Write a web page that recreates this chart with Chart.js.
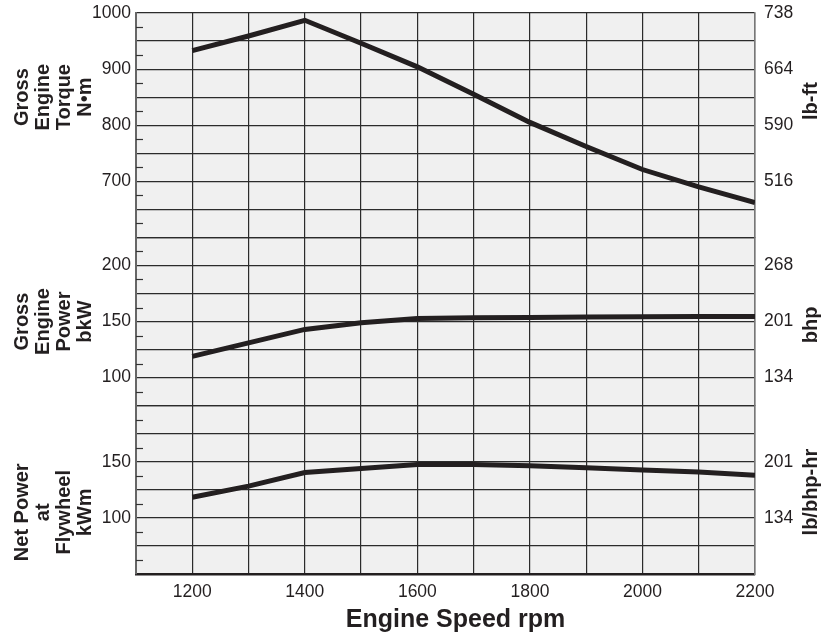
<!DOCTYPE html>
<html>
<head>
<meta charset="utf-8">
<script src="https://cdn.jsdelivr.net/npm/chart.js@4.4.1/dist/chart.umd.min.js"></script>
<style>
  html, body { margin: 0; padding: 0; background: #fff; }
</style>
</head>
<body>
<canvas id="chart" width="822" height="632"></canvas>
<script>
// values
const rpm = [1200, 1300, 1400, 1500, 1600, 1700, 1800, 1900, 2000, 2100, 2200];
const torqueNm = [933, 959, 987, 946, 904, 855, 805, 762, 721, 690, 662];
const grossPowerKw = [119, 131, 143, 149, 152.7, 153.3, 153.7, 154, 154.2, 154.4, 154.5];
const netPowerKw = [118.4, 128.3, 140.4, 144, 147.6, 147.6, 146.4, 144.6, 142.8, 141, 138];

// tick labels
const rpmTicks = [1200, 1400, 1600, 1800, 2000, 2200];
const torqueTicks = [1000, 900, 800, 700];
const torqueLbFt = ['738', '664', '590', '516'];
const powerTicks = [200, 150, 100];
const powerBhp = ['268', '201', '134'];
const netTicks = [150, 100];
const netLbBhpHr = ['201', '134'];

const FONT = '"Liberation Sans", Arial, Helvetica, sans-serif';
const INK = '#231f20';
const GRID = '#2b2b2b';

const xTitle = 'Engine Speed rpm';
const leftTitles = [
  { axis: 'yTorque', at: 850, lines: ['Gross', 'Engine', 'Torque', 'N•m'] },
  { axis: 'yPower', at: 150, lines: ['Gross', 'Engine', 'Power', 'bkW'] },
  { axis: 'yNet', at: 105, lines: ['Net Power', 'at', 'Flywheel', 'kWm'] },
];
const rightTitles = [
  { axis: 'rTorque', at: 843, text: 'lb-ft' },
  { axis: 'rPower', at: 147, text: 'bhp' },
  { axis: 'rNet', at: 123, text: 'lb/bhp-hr' },
];

function pts(ys) {
  return rpm.map((r, i) => ({ x: r, y: ys[i] }));
}

function leftAxis(min, max, step, labels, weight) {
  return {
    type: 'linear', position: 'left', stack: 'left',
    stackWeight: (max - min) / step, weight: weight,
    min: min, max: max,
    afterFit(s) { s.width = 46; s.paddingTop = 0; s.paddingBottom = 0; },
    ticks: {
      stepSize: step, autoSkip: false, padding: 5, color: INK,
      font: { family: FONT, size: 17.5 },
      callback: v => labels.includes(v) ? String(v) : ''
    },
    grid: { color: GRID, lineWidth: 1.2, drawTicks: false },
    border: { color: '#666', width: 2 }
  };
}

function rightAxis(min, max, step, values, labels, weight) {
  return {
    type: 'linear', position: 'right', stack: 'right',
    stackWeight: (max - min) / step, weight: weight,
    min: min, max: max,
    afterFit(s) { s.width = 50; s.paddingTop = 0; s.paddingBottom = 0; },
    ticks: {
      stepSize: step, autoSkip: false, padding: 9, color: INK,
      font: { family: FONT, size: 17.5 },
      callback: v => { const i = values.indexOf(v); return i >= 0 ? labels[i] : ''; }
    },
    grid: { display: false, drawTicks: false },
    border: { color: '#777', width: 1.5 }
  };
}

// grey plot background, small inner ticks on the left edge and the titles
const decor = {
  id: 'decor',
  beforeDraw(chart) {
    const { ctx, chartArea: a } = chart;
    ctx.save();
    ctx.fillStyle = '#f0f0f0';
    ctx.fillRect(a.left, a.top, a.width, a.height);
    ctx.restore();
  },
  beforeDatasetsDraw(chart) {
    const { ctx, chartArea: a } = chart;
    ctx.save();
    ctx.strokeStyle = '#333';
    ctx.lineWidth = 1.2;
    ['yTorque', 'yPower', 'yNet'].forEach(id => {
      const s = chart.scales[id];
      const step = s.options.ticks.stepSize;
      for (let v = s.min + step / 2; v < s.max; v += step) {
        const y = Math.round(s.getPixelForValue(v)) + 0.5;
        ctx.beginPath();
        ctx.moveTo(a.left, y);
        ctx.lineTo(a.left + 7, y);
        ctx.stroke();
      }
    });
    ctx.restore();
  },
  afterDraw(chart) {
    const { ctx, chartArea: a } = chart;
    ctx.save();
    ctx.fillStyle = INK;
    ctx.textAlign = 'center';
    ctx.textBaseline = 'middle';
    ctx.font = 'bold 20px ' + FONT;
    leftTitles.forEach(t => {
      const y = chart.scales[t.axis].getPixelForValue(t.at);
      t.lines.forEach((line, i) => {
        ctx.save();
        ctx.translate(a.left - 114 + 21 * i, y);
        ctx.rotate(-Math.PI / 2);
        ctx.fillText(line, 0, 0);
        ctx.restore();
      });
    });
    rightTitles.forEach(t => {
      const y = chart.scales[t.axis].getPixelForValue(t.at);
      ctx.save();
      ctx.translate(a.right + 56, y);
      ctx.rotate(-Math.PI / 2);
      ctx.fillText(t.text, 0, 0);
      ctx.restore();
    });
    ctx.font = 'bold 25px ' + FONT;
    ctx.fillText(xTitle, (a.left + a.right) / 2 + 10, a.bottom + 46);
    ctx.restore();
  }
};

const lineStyle = {
  borderColor: INK, borderWidth: 5, pointRadius: 0,
  tension: 0, borderCapStyle: 'butt', borderJoinStyle: 'miter'
};

new Chart(document.getElementById('chart').getContext('2d'), {
  type: 'line',
  data: {
    datasets: [
      { label: 'Gross Engine Torque', data: pts(torqueNm), yAxisID: 'yTorque', ...lineStyle },
      { label: 'Gross Engine Power', data: pts(grossPowerKw), yAxisID: 'yPower', ...lineStyle },
      { label: 'Net Power at Flywheel', data: pts(netPowerKw), yAxisID: 'yNet', ...lineStyle },
    ]
  },
  options: {
    responsive: false,
    animation: false,
    layout: { padding: { left: 90, right: 17, top: 13, bottom: 0 } },
    plugins: { legend: { display: false }, tooltip: { enabled: false } },
    scales: {
      x: {
        type: 'linear', min: 1100, max: 2200,
        afterFit(s) { s.height = 58; },
        ticks: {
          stepSize: 100, autoSkip: false, maxRotation: 0, padding: 8, color: INK,
          font: { family: FONT, size: 17.5 },
          callback: v => rpmTicks.includes(v) ? String(v) : ''
        },
        grid: { color: GRID, lineWidth: 1.2, drawTicks: false },
        border: { color: INK, width: 2.5 }
      },
      yTorque: leftAxis(600, 1000, 50, torqueTicks, 3),
      yPower: leftAxis(75, 225, 25, powerTicks, 2),
      yNet: leftAxis(50, 200, 25, netTicks, 1),
      rTorque: rightAxis(600, 1000, 50, torqueTicks, torqueLbFt, 1),
      rPower: rightAxis(75, 225, 25, powerTicks, powerBhp, 2),
      rNet: rightAxis(50, 200, 25, netTicks, netLbBhpHr, 3),
    }
  },
  plugins: [decor]
});
</script>
</body>
</html>
